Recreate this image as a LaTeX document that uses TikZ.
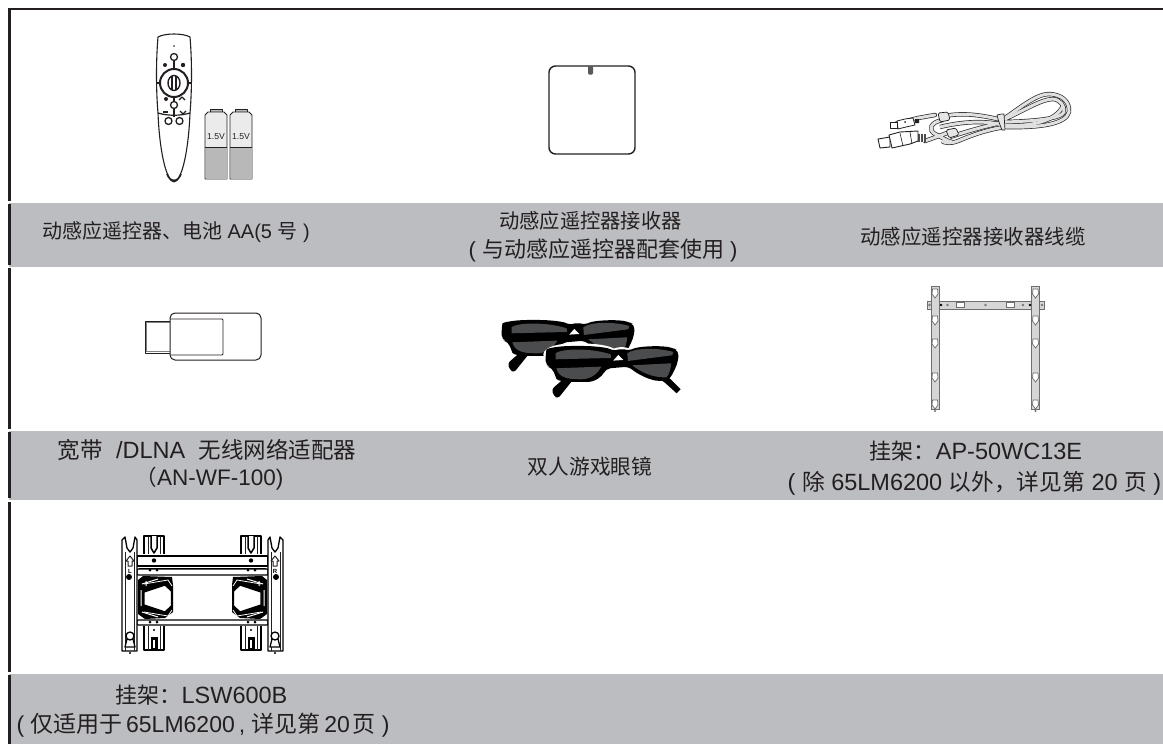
\documentclass[tikz,border=0pt]{standalone}
\usepackage{fontspec}
\setmainfont{Liberation Sans}
\newfontfamily\cjkfont{Noto Sans CJK SC}
\def\zhsize{20}
\newcommand{\zh}[1]{{\fontsize{\zhsize}{24}\selectfont\cjkfont #1}}
\usetikzlibrary{calc}
\definecolor{ink}{HTML}{231F20}
\definecolor{bandgray}{HTML}{BCBDC0}
\definecolor{wire}{HTML}{2A2A2A}
\definecolor{lens}{HTML}{4A4C4E}
\definecolor{metal}{HTML}{D6D6D6}
\definecolor{edge}{HTML}{6E6E6E}
\tikzset{
  band/.style={fill=bandgray,draw=none},
  rule/.style={draw=ink,line width=2.8pt},
  label/.style={text=ink,font=\fontsize{20}{24}\selectfont,inner sep=0pt,anchor=center},
  sized/.style 2 args={label,font={\def\zhsize{#1}\fontsize{#2}{28}\selectfont}},
  art/.style={draw=ink,line width=1pt,line join=round},
  thin art/.style={draw=ink,line width=.6pt},
  strongart/.style={draw=black,line width=1.3pt,line join=round},
}
% ---------- glasses
\newcommand{\glassespair}{%
  \fill[black,rounded corners=3pt] (83,130) -- (90,150) -- (102,158) -- (150,98) -- (162,85) -- (235,70) -- (225,60) -- (150,72) -- cycle;
  \fill[black] (385,55) -- (440,100) -- (470,130) -- (458,142) -- (425,112) -- (370,70) -- cycle;
  \fill[black,rounded corners=5pt] (65,25) .. controls (68,8) and (100,0) .. (160,0)
     .. controls (210,0) and (250,5) .. (270,16) .. controls (285,10) and (300,10) .. (315,15)
     .. controls (340,2) and (400,-2) .. (445,5) -- (465,15) -- (462,48)
     .. controls (455,65) and (445,85) .. (440,100) -- (410,106) .. controls (370,100) and (335,80) .. (315,62)
     -- (245,68) .. controls (235,90) and (215,108) .. (175,108) .. controls (130,108) and (100,105) .. (92,85)
     -- (85,65) -- (65,60) -- cycle;
  \fill[lens] (95,22) .. controls (110,8) and (200,5) .. (260,25) -- (262,36) -- (95,40) -- cycle;
  \fill[lens] (310,22) .. controls (330,6) and (400,4) .. (448,18) -- (445,28) -- (312,45) -- cycle;
  \fill[lens] (97,67) -- (232,62) .. controls (220,85) and (200,100) .. (170,100) .. controls (130,100) and (105,95) .. (97,67) -- cycle;
  \fill[lens] (325,58) -- (442,52) .. controls (440,70) and (436,85) .. (428,94) .. controls (385,96) and (350,78) .. (325,58) -- cycle;
  \fill[white] (268,44) -- (283,27) -- (298,42) -- cycle;
}
% ---------- one half of the swivel wall mount
\newcommand{\mounthalf}[1]{%
  \draw[strongart,fill=white] (122,651) -- (122,540) -- (125,537) -- (127,548) -- (130,552) -- (133,548) -- (135,537) -- (137,540) -- (137,651) -- cycle;
  \draw[thin art] (125,651) -- (125,552) (134,651) -- (134,552);
  \draw[art,line width=1pt,fill=white] (130,556) -- (134,561) -- (132,561) -- (132,566) -- (128,566) -- (128,561) -- (126,561) -- cycle;
  \node[text=black,font=\bfseries\fontsize{6}{6}\selectfont,inner sep=0pt] (mt#1) at (130,571) {#1};
  \fill[black] (129,577) circle (3);
  \draw[strongart,fill=white] (130,636) circle (4) (127,639) -- (125,647) -- (135,647) -- (133,639);
  \fill[black] (130,653) circle (1.2);
  \draw[strongart,fill=white] (144,554) -- (144,536) -- (164,536) -- (164,554);
  \draw[thin art] (148,536) -- (148,554) (160,536) -- (160,554);
  \draw[strongart,fill=white,line width=1.5pt] (151,536) -- (151,548) -- (154,553) -- (157,548) -- (157,536);
  \draw[strongart,fill=white] (144,626) -- (144,650) -- (164,650) -- (164,626);
  \draw[thin art] (148,626) -- (148,650) (160,626) -- (160,650);
  \fill[black] (150.5,637) rectangle (157.5,650);
  \fill[white] (153,640) rectangle (155,648);
  \fill[black] (154,630) circle (1.2);
  \fill[black] (154,560.5) circle (2.2);
  \fill[black] (150,570) circle (1.5) (157,570) circle (1.5) (150,622) circle (1.5) (157,622) circle (1.5);
  \fill[black] (143,576) -- (172,577) -- (173,585) -- (173,612) -- (165,618) -- (145,619) -- (138,614) -- (138,580) -- cycle;
  \draw[white,line width=1pt] (142,584) -- (158,579) (142,612) -- (158,617) (141,590) -- (141,606) (146,581) -- (146,586);
  \draw[white,line width=.8pt] (144,584) -- (168,580) -- (172,586) (144,612) -- (168,616) -- (172,610);
  \draw[black,line width=1.4pt,fill=white] (144,592) -- (165,585) -- (171.5,591) -- (171.5,606) -- (165,612) -- (144,605) -- cycle;
}
% ---------- keyhole of the fixed wall mount
\newcommand{\keyhole}[2]{%
  \draw[edge,fill=white,line width=.7pt] (#1-2.5,#2-4) -- (#1+2.5,#2-4) -- (#1+3,#2+1) -- (#1,#2+5) -- (#1-3,#2+1) -- cycle;
}
\newcommand{\screwdot}[1]{\fill[metal,draw=edge,line width=.5pt] (#1,305) circle (1);}
\begin{document}
\begin{tikzpicture}[x=1pt,y=-1pt]
\useasboundingbox (0,0) rectangle (1163,744);
\fill[white] (0,0) rectangle (1163,744);
% bands
\fill[band] (9,203) rectangle (1163,267);
\fill[band] (9,431) rectangle (1163,500);
\fill[band] (9,674) rectangle (1163,744);
% frame
\draw[draw=ink,line width=2pt] (8.2,8.5) -- (1163,8.5);
\draw[rule] (9.5,7.6) -- (9.5,201);
\draw[rule] (9.5,204) -- (9.5,265);
\draw[rule] (9.5,268) -- (9.5,429);
\draw[rule] (9.5,432) -- (9.5,498);
\draw[rule] (9.5,502) -- (9.5,672);
\draw[rule] (9.5,675) -- (9.5,744);

% ---- labels
\node[label] (t1) at (176,232) {\zh{动感应遥控器、电池} AA(5 \zh{号} )};
\node[sized={20.3}{20.3}] (t2a) at (590.5,221) {\zh{动感应遥控器接收器}};
\node[sized={22}{22}] (t2b) at (603,250) {( \zh{与动感应遥控器配套使用} )};
\node[sized={20.5}{20.5}] (t3) at (973,237) {\zh{动感应遥控器接收器线缆}};
\node[sized={22.5}{23.5}] (t4a) at (207,450) {\zh{宽带}\hspace{7pt} /DLNA \hspace{7pt}\zh{无线网络适配器}};
\node[sized={21.5}{22.5}] (t4b) at (209.5,479) {\zh{（}AN-WF-100)};
\node[sized={20.7}{20.7}] (t5) at (590,467) {\zh{双人游戏眼镜}};
\node[sized={22}{23.5}] (t6a) at (976,451) {\zh{挂架：}AP-50WC13E};
\node[sized={22.7}{23.5}] (t6b) at (974.5,483) {( \zh{除} 65LM6200 \zh{以外，详见第} 20 \zh{页} )};
\node[sized={22}{23.5}] (t7a) at (201.5,695) {\zh{挂架：}LSW600B};
\node[sized={23}{23}] (t7b) at (203,725) {(\hspace{6pt}\zh{仅适用于}\hspace{4pt}65LM6200\hspace{4pt},\hspace{6pt}\zh{详见第}\hspace{4pt}20\hspace{3pt}\zh{页}\hspace{6pt})};

% ---- remote
\draw[art,line width=1.1pt,fill=white] (158,37) .. controls (165,33) and (183,33) .. (190,37)
  .. controls (192,60) and (192,90) .. (190,113) .. controls (189,140) and (185,165) .. (180,175)
  .. controls (178,180) and (176,182) .. (174,182) .. controls (172,182) and (170,180) .. (168,175)
  .. controls (163,165) and (159,140) .. (158,113) .. controls (156,90) and (156,60) .. (158,37) -- cycle;
\draw[art,line width=1.6pt] (167,174) .. controls (170,182.5) and (178,182.5) .. (181,174);
\draw[art,line width=1.2pt] (158,113) .. controls (168,116) and (180,116) .. (190,113);
\fill[ink] (174,46) circle (.8);
\draw[art,line width=1.3pt] (174,57) circle (3.5);
\draw[art,line width=1.2pt] (174,60.5) -- (174,70) (174,96) -- (174,101.5) (174,108.5) -- (174,117);
\draw[art,line width=2pt] (174,83) circle (14);
\draw[art,line width=1.2pt] (157,83) -- (160,83) (188,83) -- (191,83);
\draw[art,line width=1.4pt] (174,83) ellipse (6 and 7.5);
\draw[art,line width=1.6pt] (172,76) -- (172,90) (176,76) -- (176,90);
\draw[art,line width=1.3pt] (174,105) circle (3.5);
\draw[art,line width=1.3pt] (168.5,121) circle (3.5) (179.5,121) circle (3.5);
\fill[ink] (165,65) circle (2) (183,65) circle (2.2);
\fill[ink] (166,99) circle (2);
\draw[art,line width=1.4pt] (179,100) -- (182,97) -- (185,100);
\draw[art,line width=1.6pt] (163,112) -- (168,112);
\draw[art,line width=1.4pt] (180,111) -- (183,114) -- (186,111);

% ---- batteries
\foreach \bx/\bn in {205/a,230/b}{
  \draw[art,line width=.6pt,fill=gray!55] (\bx+5,112) -- (\bx+5,109) -- (\bx+17,109) -- (\bx+17,112);
  \draw[art,line width=.9pt,fill=black!8] (\bx,179) -- (\bx,115) -- (\bx+3,112) -- (\bx+19,112) -- (\bx+22,115) -- (\bx+22,179) -- cycle;
  \fill[black!28] (\bx+.5,147) rectangle (\bx+21.5,178.5);
  \draw[art,line width=.7pt] (\bx,147) -- (\bx+22,147);
  \node[text=ink,font=\fontsize{8.6}{10}\selectfont,inner sep=0pt] (bat\bn) at (\bx+11,137) {1.5V};
}

% ---- receiver
\draw[art,line width=1.4pt,rounded corners=6.5pt] (549,66) rectangle (635,154);
\fill[black!65,rounded corners=1.2pt] (588,66) rectangle (593,74.5);

% ---- cable
\foreach \w/\c in {4.4/wire,3/black!12}{
  \draw[\c,line width=\w pt,line cap=round] (895,124) -- (918,118) -- (935,115);
  \draw[\c,line width=\w pt,line cap=round] (925,141) -- (950,132);
  \draw[\c,line width=\w pt] (943,120) .. controls (930,122) and (928,130) .. (935,134) .. controls (942,137) and (946,141) .. (952,142);
  \draw[\c,line width=\w pt] (940,127) .. controls (960,122) and (985,120) .. (1002,125) .. controls (1030,127) and (1055,122) .. (1063,106);
  \draw[\c,line width=\w pt] (1005,119) .. controls (1025,110) and (1040,100) .. (1052,99) .. controls (1060,99) and (1065,106) .. (1064,112) .. controls (1062,118) and (1040,121) .. (1005,122) .. controls (985,126) and (965,132) .. (950,137);
  \draw[\c,line width=\w pt,line join=round] (945,116) .. controls (965,112) and (985,116) .. (1002,120) .. controls (1020,108) and (1035,95) .. (1048,94) .. controls (1062,94) and (1070,102) .. (1069,112) .. controls (1066,124) and (1040,128) .. (1005,127) .. controls (985,130) and (970,136) .. (958,141) .. controls (950,144) and (945,143) .. (942,141);
}
\draw[art,line width=.7pt,fill=black!10,rounded corners=1.5pt] (938,113) -- (948,112) -- (950,120) -- (940,122) -- cycle;
\draw[art,line width=.7pt,fill=black!10,rounded corners=1.5pt] (946,130) -- (956,128) -- (959,135) -- (949,138) -- cycle;
\draw[art,line width=.7pt,fill=black!10] (997,115) .. controls (1000,114) and (1002,114) .. (1004,114) -- (1005,130) -- (1002,130) .. controls (1000,125) and (998,120) .. (997,115) -- cycle;
% small plug
\draw[art,line width=.8pt,fill=white] (897,121) -- (905,119) -- (913,118) -- (915,125) -- (906,127) -- (898,129) -- cycle;
\draw[art,line width=.8pt,fill=white] (890,122) rectangle (897,128);
\fill[ink] (905,122) circle (1) (915,119) rectangle (919,123);
% large plug
\draw[art,line width=.9pt,fill=white] (878,139) -- (890,137) -- (890,147) -- (880,148) -- cycle;
\draw[art,line width=.9pt,fill=white] (889,135) -- (900,132) -- (918,131) -- (918,141) -- (910,144) -- (892,148) -- cycle;
\draw[art,line width=.6pt] (900,133) -- (903,146) (910,132) -- (912,144);
\fill[black!70] (918,134) rectangle (926,142);
\draw[white,line width=.5pt] (920,134) -- (920,142) (923,134) -- (923,142);

% ---- dongle
\draw[art,line width=1pt,fill=white] (145,321) rectangle (170,353);
\draw[gray,line width=1.5pt] (146.5,322) -- (146.5,351.5) -- (170,351.5);
\draw[gray,line width=1.2pt] (146.5,322.5) -- (170,322.5);
\draw[art,line width=1pt,fill=white,rounded corners=5pt] (170,313) rectangle (261,360);
\draw[art,line width=.8pt,rounded corners=1pt] (170,319) -- (223,319) -- (223,355) -- (170,355);

% ---- glasses
\begin{scope}[x=0.3333pt,y=-0.3333pt,shift={(1440,960)}]
  \glassespair
\end{scope}
\begin{scope}[x=0.3333pt,y=-0.3333pt,shift={(1572,1038)}]
  \fill[white] (58,25) .. controls (62,2) and (100,-8) .. (160,-8) .. controls (210,-8) and (250,-3) .. (270,8) .. controls (285,2) and (300,2) .. (315,7) .. controls (340,-6) and (400,-10) .. (448,-3) -- (472,12) -- (470,40) -- (62,40) -- cycle;
  \glassespair
\end{scope}

% ---- fixed mount
\draw[edge,line width=.8pt,fill=metal] (927,301) rectangle (1044,309);
\draw[edge,line width=1pt,fill=white] (956.5,302.5) rectangle (964.5,307.5);
\draw[edge,line width=1pt,fill=white] (1006.5,302.5) rectangle (1014.5,307.5);
\foreach \dx in {929.5,947.5,985.5,1023,1042}{\screwdot{\dx}}
\fill[black] (941,305) circle (1.3) (1030,305) circle (1.3);
\foreach \sx in {935,1035.5}{
  \draw[edge,line width=.8pt,fill=metal] (\sx-4,286) rectangle (\sx+4,409);
  \foreach \ky in {293,320,343,377,404}{\keyhole{\sx}{\ky}}
  \fill[edge] (\sx,411) circle (1.1);
}

% ---- swivel mount
\draw[strongart,fill=white] (137,556) rectangle (268,566);
\draw[black,line width=.8pt] (139,568) -- (266,568);
\draw[strongart,fill=white,rounded corners=1pt] (137,569) rectangle (268,575);
\draw[strongart,fill=white,rounded corners=1pt] (137,620) rectangle (268,625);
\mounthalf{L}
\begin{scope}[shift={(405,0)},xscale=-1]
  \mounthalf{R}
\end{scope}
\end{tikzpicture}
\end{document}
